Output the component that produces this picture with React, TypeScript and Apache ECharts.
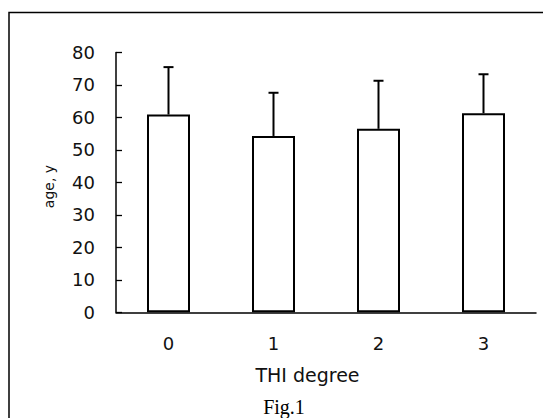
import React, { useEffect, useRef } from "react";
import * as echarts from "echarts";

const categories = ["0", "1", "2", "3"];
const means = [60.9, 54.3, 56.5, 61.3];
const upperErr = [75.5, 67.6, 71.3, 73.3];
const yTicks = { min: 0, max: 80, interval: 10 };

export default function App() {
  const ref = useRef<HTMLDivElement>(null);
  useEffect(() => {
    if (!ref.current) return;
    const chart = echarts.init(ref.current, null, { renderer: "svg" });
    const errData = categories.map((_, i) => [i, means[i], upperErr[i]]);
    chart.setOption({
      animation: false,
      backgroundColor: "#fff",
      grid: { left: 116, right: 7, top: 52.5, bottom: 105.7 },
      xAxis: {
        type: "category",
        data: categories,
        boundaryGap: true,
        axisLine: { lineStyle: { color: "#000", width: 1.5 } },
        axisTick: { inside: true, length: 7, lineStyle: { color: "#000", width: 1.3 } },
        axisLabel: { color: "#111", fontFamily: "DejaVu Sans", fontSize: 18, margin: 22 },
        splitLine: { show: false },
      },
      yAxis: {
        type: "value",
        min: yTicks.min,
        max: yTicks.max,
        interval: yTicks.interval,
        axisLine: { show: true, lineStyle: { color: "#000", width: 1.5 } },
        axisTick: { show: true, inside: true, length: 6, lineStyle: { color: "#000", width: 1.3 } },
        axisLabel: { color: "#111", fontFamily: "DejaVu Sans", fontSize: 18, margin: 21 },
        splitLine: { show: false },
      },
      graphic: [
        {
          type: "rect",
          shape: { x: 9, y: 12.5, width: 545, height: 420 },
          style: { fill: "none", stroke: "#000", lineWidth: 1.5 },
          silent: true,
        },
        {
          type: "text",
          x: 49,
          y: 186.5,
          rotation: Math.PI / 2,
          style: {
            text: "age, y",
            fill: "#111",
            font: "14px 'DejaVu Sans'",
            textAlign: "center",
            textVerticalAlign: "middle",
          },
        },
        {
          type: "text",
          x: 307.5,
          y: 375,
          style: {
            text: "THI degree",
            fill: "#111",
            font: "19px 'DejaVu Sans'",
            textAlign: "center",
            textVerticalAlign: "middle",
          },
        },
        {
          type: "text",
          x: 284,
          y: 406.5,
          style: {
            text: "Fig.1",
            fill: "#000",
            font: "20px 'Liberation Serif'",
            textAlign: "center",
            textVerticalAlign: "middle",
          },
        },
      ],
      series: [
        {
          type: "bar",
          data: means,
          barWidth: 43,
          itemStyle: { color: "#fff", borderColor: "#000", borderWidth: 2 },
          z: 3,
        },
        {
          type: "custom",
          data: errData,
          encode: { x: 0, y: [1, 2] },
          z: 2,
          renderItem: (params: any, api: any) => {
            const idx = api.value(0);
            const p0 = api.coord([idx, api.value(1)]);
            const p1 = api.coord([idx, api.value(2)]);
            const hw = 5;
            return {
              type: "group",
              children: [
                {
                  type: "line",
                  shape: { x1: p0[0], y1: p0[1], x2: p1[0], y2: p1[1] },
                  style: { stroke: "#000", lineWidth: 2 },
                },
                {
                  type: "line",
                  shape: { x1: p1[0] - hw, y1: p1[1], x2: p1[0] + hw, y2: p1[1] },
                  style: { stroke: "#000", lineWidth: 2 },
                },
              ],
            };
          },
        },
      ],
    });
    return () => chart.dispose();
  }, []);
  return (
    <div
      ref={ref}
      style={{ position: "absolute", left: 0, top: 0, width: 543, height: 418, background: "#fff" }}
    />
  );
}
